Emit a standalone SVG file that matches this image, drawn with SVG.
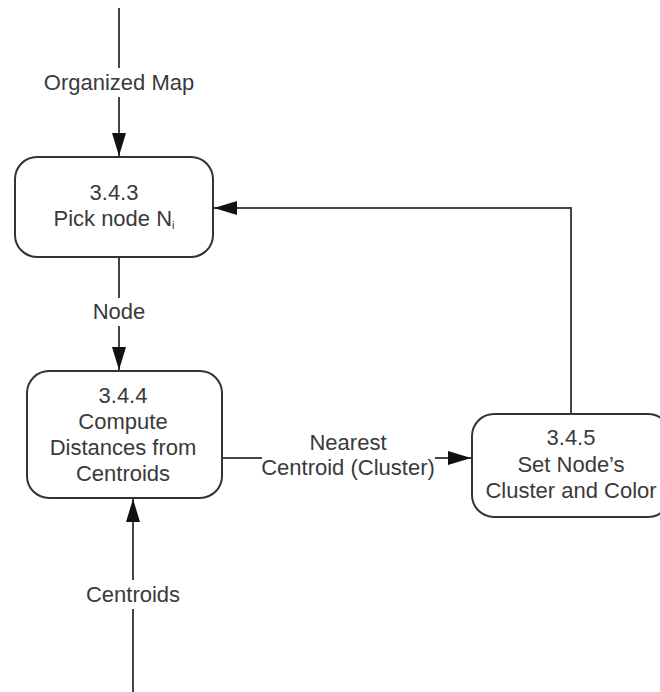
<svg xmlns="http://www.w3.org/2000/svg" width="660" height="692" viewBox="0 0 660 692">
  <style>
    .box { fill: #ffffff; stroke: #333333; stroke-width: 2; }
    .flow { fill: none; stroke: #444444; stroke-width: 2; }
    .txt { font-family: "Liberation Sans", Arial, sans-serif; font-size: 22px; fill: #3a3a3a; text-anchor: middle; }
    .sub { font-size: 11px; }
    .halo { fill: #ffffff; }
  </style>
  <defs>
    <marker id="arrow" markerUnits="userSpaceOnUse" markerWidth="24" markerHeight="16" refX="23" refY="8" orient="auto">
      <path d="M0,1 L23,8 L0,15 Z" fill="#111111"/>
    </marker>
  </defs>

  <!-- data flows -->
  <g id="connectors">
    <line class="flow" x1="119" y1="8" x2="119" y2="156" marker-end="url(#arrow)"/>
    <line class="flow" x1="119" y1="258" x2="119" y2="370" marker-end="url(#arrow)"/>
    <line class="flow" x1="222" y1="458" x2="471" y2="458" marker-end="url(#arrow)"/>
    <polyline class="flow" points="571,413 571,208 214,208" marker-end="url(#arrow)"/>
    <line class="flow" x1="133" y1="692" x2="133" y2="499" marker-end="url(#arrow)"/>

    <!-- flow labels with a white backing that cuts the line -->
    <rect class="halo" x="36" y="68" width="166" height="29"/>
    <text class="txt" x="119" y="90">Organized Map</text>
    <rect class="halo" x="86" y="298" width="66" height="28"/>
    <text class="txt" x="119" y="319">Node</text>
    <rect class="halo" x="262" y="430" width="173" height="52"/>
    <text class="txt" x="348" y="450">Nearest</text>
    <text class="txt" x="348" y="475">Centroid (Cluster)</text>
    <rect class="halo" x="82" y="580" width="102" height="29"/>
    <text class="txt" x="133" y="602">Centroids</text>
  </g>

  <g id="node-3.4.3">
    <rect class="box" x="15" y="157" width="198" height="100" rx="22" ry="22"/>
    <text class="txt" x="114" y="200">3.4.3</text>
    <text class="txt" x="114" y="226">Pick node N<tspan class="sub" dy="3">i</tspan></text>
  </g>

  <g id="node-3.4.4">
    <rect class="box" x="27" y="371" width="195" height="127" rx="22" ry="22"/>
    <text class="txt" x="123" y="403">3.4.4</text>
    <text class="txt" x="123" y="429">Compute</text>
    <text class="txt" x="123" y="455">Distances from</text>
    <text class="txt" x="123" y="481">Centroids</text>
  </g>

  <g id="node-3.4.5">
    <rect class="box" x="472" y="414" width="198" height="103" rx="22" ry="22"/>
    <text class="txt" x="571" y="445">3.4.5</text>
    <text class="txt" x="571" y="472">Set Node’s</text>
    <text class="txt" x="571" y="498">Cluster and Color</text>
  </g>
</svg>
